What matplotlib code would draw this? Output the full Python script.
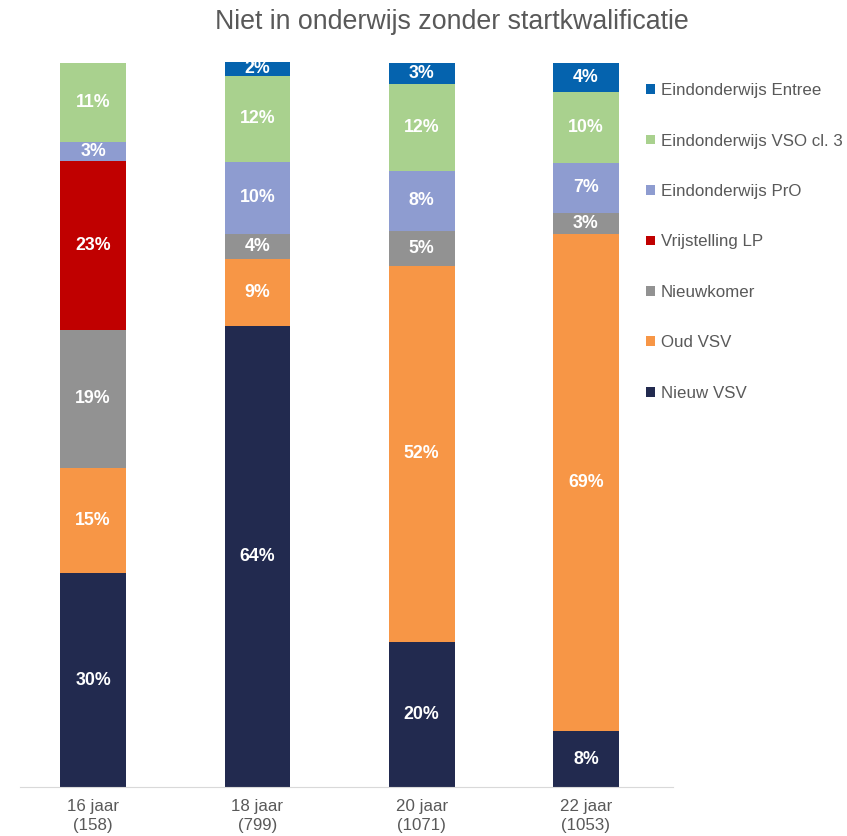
import matplotlib.pyplot as plt
import numpy as np

plt.rcParams['font.family'] = ['Liberation Sans', 'DejaVu Sans']

categories = ['16 jaar\n(158)', '18 jaar\n(799)', '20 jaar\n(1071)', '22 jaar\n(1053)']
series = ['Nieuw VSV', 'Oud VSV', 'Nieuwkomer', 'Vrijstelling LP',
          'Eindonderwijs PrO', 'Eindonderwijs VSO cl. 3', 'Eindonderwijs Entree']
nieuw_vsv = [29.5, 63.6, 20.0, 7.7]
oud_vsv = [14.6, 9.3, 52.0, 68.6]
nieuwkomer = [19.0, 3.5, 4.8, 3.0]
vrijstelling = [23.3, 0, 0, 0]
pro = [2.6, 9.9, 8.3, 6.9]
vso = [10.9, 11.9, 11.9, 9.8]
entree = [0, 1.9, 3.0, 4.0]
colors = ['#222a4f', '#f79646', '#929292', '#c00000', '#8e9cd0', '#a9d18e', '#0563ae']

data = [nieuw_vsv, oud_vsv, nieuwkomer, vrijstelling, pro, vso, entree]

fig = plt.figure(figsize=(8.47, 8.36), dpi=100)
ax = fig.add_axes([20 / 847, 49 / 836, 653 / 847, 725 / 836])

x = np.arange(len(categories))
bottom = np.zeros(len(categories))
handles = []
for name, vals, c in zip(series, data, colors):
    vals = np.array(vals, dtype=float)
    b = ax.bar(x, vals, 0.4, bottom=bottom, color=c, label=name, linewidth=0)
    handles.append(b)
    for xi, v, bt in zip(x, vals, bottom):
        if v > 0:
            ax.text(xi, bt + v / 2, f'{round(v):.0f}%', ha='center', va='center',
                    color='white', fontsize=12.8, fontweight='bold')
    bottom += vals

ax.set_xlim(-0.445, 3.53)
ax.set_ylim(0, bottom.max())
ax.set_xticks(x)
ax.set_xticklabels(categories, fontsize=12.2, color='#595959', linespacing=1.3)
ax.tick_params(axis='x', length=0, pad=9)
ax.set_yticks([])
for s in ['top', 'right', 'left']:
    ax.spines[s].set_visible(False)
ax.spines['bottom'].set_color('#d9d9d9')

fig.text(452 / 847, 1 - 22 / 836, 'Niet in onderwijs zonder startkwalificatie',
         ha='center', va='center', fontsize=19.3, color='#595959')

leg = fig.legend(handles[::-1], series[::-1], loc='upper left',
                 bbox_to_anchor=(631 / 847, 1 - 68 / 836), frameon=False,
                 fontsize=12.2, handlelength=0.5, handleheight=0.5,
                 handletextpad=0.35, labelspacing=2.09)
for t in leg.get_texts():
    t.set_color('#595959')

fig.savefig('out.png', dpi=100)
